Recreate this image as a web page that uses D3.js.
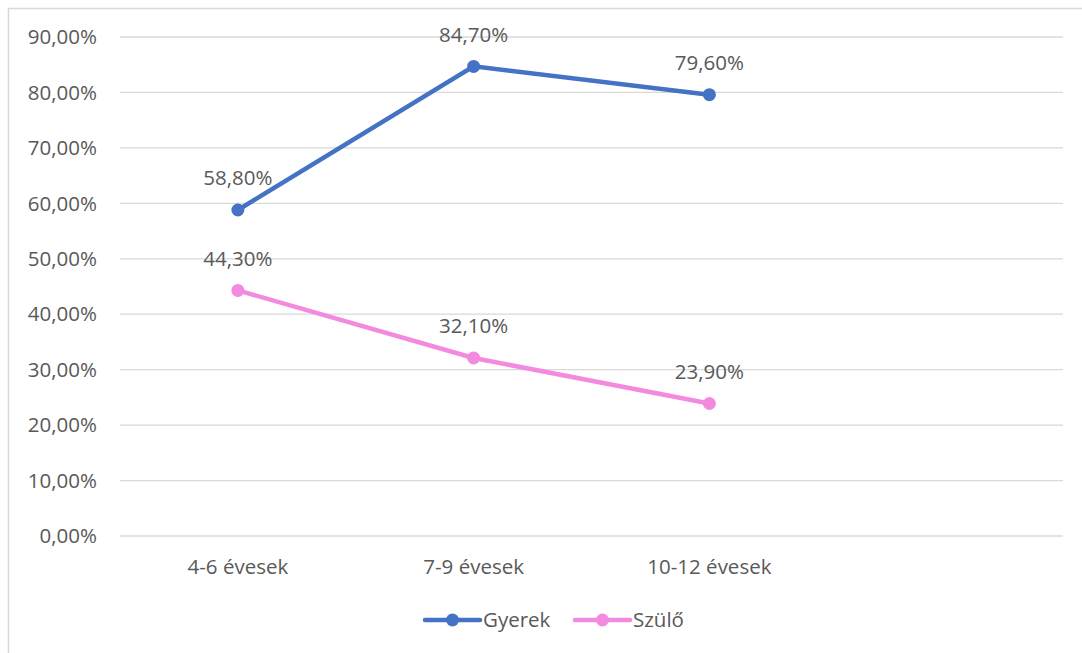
<!DOCTYPE html>
<html>
<head>
<meta charset="utf-8">
<script src="https://cdn.jsdelivr.net/npm/d3@7"></script>
<style>
  body { margin: 0; background: #fff; }
  text { font-family: "Open Sans", sans-serif; fill: #595959; font-size: 20.5px; }
</style>
</head>
<body>
<svg width="1082" height="653"></svg>
<script>
const categories = ["4-6 évesek", "7-9 évesek", "10-12 évesek", ""];
const gyerek = [0.588, 0.847, 0.796];
const szulo = [0.443, 0.321, 0.239];
const yTicks = [0, 0.1, 0.2, 0.3, 0.4, 0.5, 0.6, 0.7, 0.8, 0.9];

const series = [
    { name: "Gyerek", values: gyerek, color: "#4472C4" },
    { name: "Szülő", values: szulo, color: "#F38AE0" }
];

const svg = d3.select("svg");

// chart frame
svg.append("rect")
    .attr("x", 8.5).attr("y", 8.5)
    .attr("width", 1100).attr("height", 700)
    .attr("fill", "none")
    .attr("stroke", "#d9d9d9")
    .attr("stroke-width", 1.5);

const x = d3.scaleBand()
    .domain(categories)
    .range([120, 1063]);

const y = d3.scaleLinear()
    .domain([0, 0.9])
    .range([536, 37]);

const fmt = v => d3.format(".2f")(v * 100).replace(".", ",") + "%";

// gridlines
svg.append("g")
    .selectAll("line")
    .data(yTicks)
    .enter()
    .append("line")
    .attr("x1", 120).attr("x2", 1063)
    .attr("y1", d => y(d)).attr("y2", d => y(d))
    .attr("stroke", "#d9d9d9")
    .attr("stroke-width", 1.3);

// y labels
svg.append("g")
    .selectAll("text")
    .data(yTicks)
    .enter()
    .append("text")
    .attr("x", 97)
    .attr("y", d => y(d))
    .attr("dy", "0.35em")
    .attr("text-anchor", "end")
    .text(fmt);

// x labels
svg.append("g")
    .selectAll("text")
    .data(categories)
    .enter()
    .append("text")
    .attr("x", d => x(d) + x.bandwidth() / 2)
    .attr("y", 567)
    .attr("dy", "0.35em")
    .attr("text-anchor", "middle")
    .text(d => d);

const line = d3.line()
    .x((d, i) => x(categories[i]) + x.bandwidth() / 2)
    .y(d => y(d));

series.forEach(s => {
    const g = svg.append("g");
    g.append("path")
        .datum(s.values)
        .attr("d", line)
        .attr("fill", "none")
        .attr("stroke", s.color)
        .attr("stroke-width", 4.5)
        .attr("stroke-linecap", "round");
    g.selectAll("circle")
        .data(s.values)
        .enter()
        .append("circle")
        .attr("cx", (d, i) => x(categories[i]) + x.bandwidth() / 2)
        .attr("cy", d => y(d))
        .attr("r", 6.5)
        .attr("fill", s.color);
    g.selectAll("text")
        .data(s.values)
        .enter()
        .append("text")
        .attr("x", (d, i) => x(categories[i]) + x.bandwidth() / 2)
        .attr("y", d => y(d) - 32)
        .attr("dy", "0.35em")
        .attr("text-anchor", "middle")
        .text(fmt);
});

// legend
const legend = svg.append("g")
    .selectAll("g")
    .data(series)
    .enter()
    .append("g")
    .attr("transform", (d, i) => `translate(${425 + i * 150},620)`);
legend.append("line")
    .attr("x1", 0).attr("x2", 55)
    .attr("stroke", d => d.color)
    .attr("stroke-width", 4.5)
    .attr("stroke-linecap", "round");
legend.append("circle")
    .attr("cx", 27.5).attr("r", 6.5)
    .attr("fill", d => d.color);
legend.append("text")
    .attr("x", 58)
    .attr("dy", "0.35em")
    .text(d => d.name);
</script>
</body>
</html>
